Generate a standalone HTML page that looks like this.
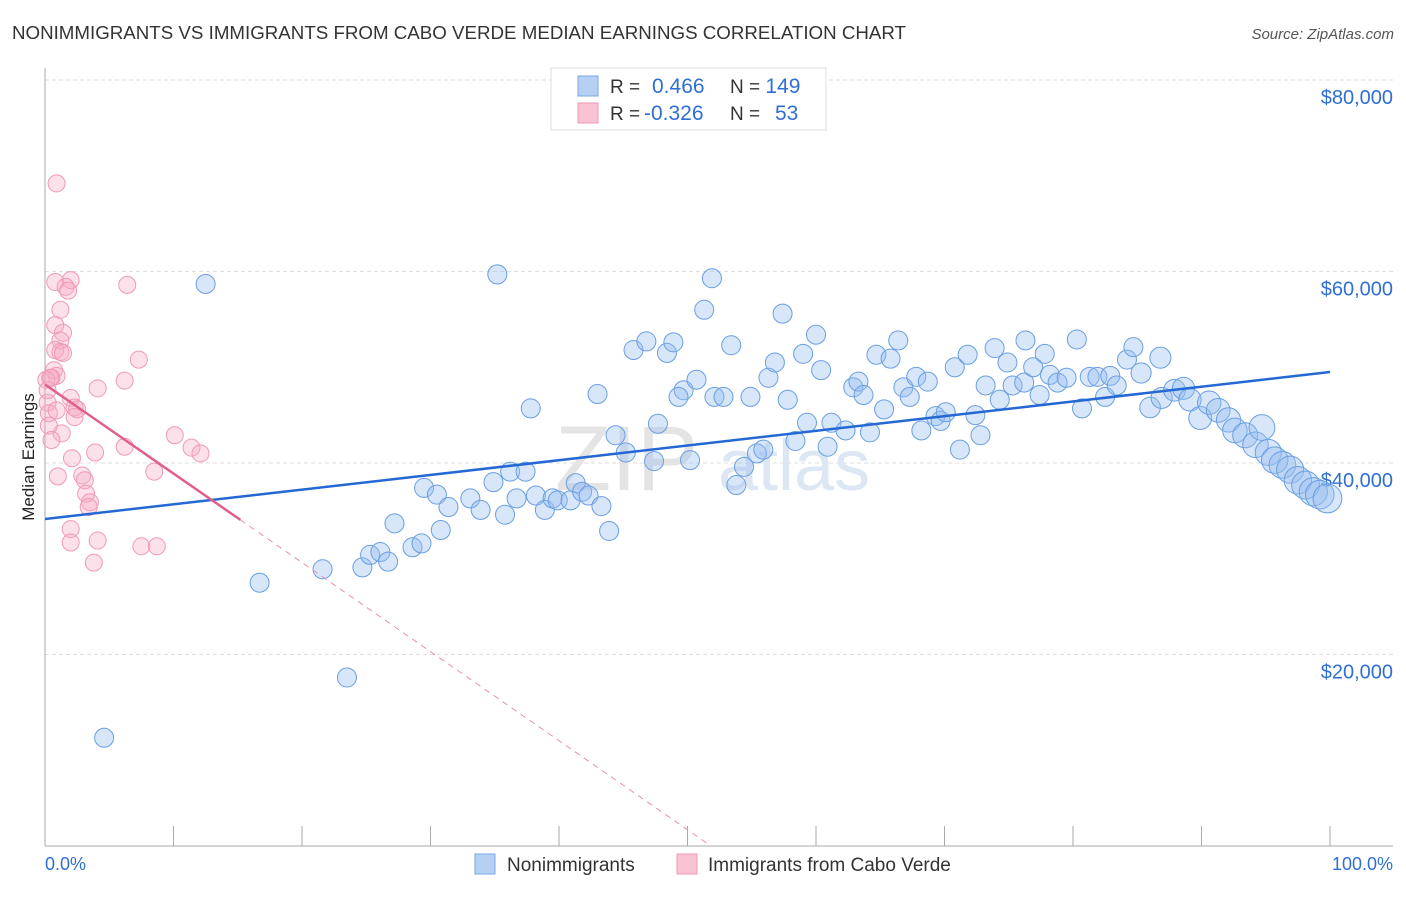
<!DOCTYPE html>
<html><head><meta charset="utf-8"><style>
body{margin:0;background:#fff;font-family:"Liberation Sans",sans-serif;}
svg text{font-family:"Liberation Sans",sans-serif;}
</style></head><body>
<svg id="chart" width="1406" height="892" viewBox="0 0 1406 892">
<text x="12" y="39" font-size="18" fill="#333" textLength="894" lengthAdjust="spacingAndGlyphs">NONIMMIGRANTS VS IMMIGRANTS FROM CABO VERDE MEDIAN EARNINGS CORRELATION CHART</text>
<text x="1394" y="39" font-size="15" fill="#555" font-style="italic" text-anchor="end">Source: ZipAtlas.com</text>
<g id="grid"></g>
<g><text x="555" y="490" font-size="92" fill="#e4e4e4" font-family="Liberation Serif">ZIP</text><text x="718" y="490" font-size="72" fill="#dde6f3">atlas</text></g>
<line x1="45" y1="68" x2="45" y2="846" stroke="#aaa"/>
<line x1="45" y1="846" x2="1393" y2="846" stroke="#aaa"/>
<text transform="translate(34,457) rotate(-90)" font-size="17" fill="#222" text-anchor="middle">Median Earnings</text>
<g id="pts"></g>
<g id="trends"></g>
<g>
<rect x="551" y="68" width="275" height="62" fill="#fff" stroke="#ddd"/>
<rect x="578" y="76" width="20" height="20" fill="#b5d0f3" stroke="#7aa7e6"/>
<rect x="578" y="103" width="20" height="20" fill="#f9c3d3" stroke="#f09ab5"/>
<text x="610" y="93" font-size="19" fill="#333">R = <tspan fill="#2f6fd4" x="652" font-size="21">0.466</tspan><tspan x="730">N = </tspan><tspan fill="#2f6fd4" font-size="21">149</tspan></text>
<text x="610" y="120" font-size="19" fill="#333">R = <tspan fill="#2f6fd4" x="644" font-size="21">-0.326</tspan><tspan x="730">N = </tspan><tspan fill="#2f6fd4" x="775" font-size="21">53</tspan></text>
</g>
<g>
<rect x="475" y="854" width="20" height="20" fill="#b5d0f3" stroke="#7aa7e6"/>
<text x="507" y="871" font-size="19" fill="#333">Nonimmigrants</text>
<rect x="677" y="854" width="20" height="20" fill="#f9c3d3" stroke="#f09ab5"/>
<text x="708" y="871" font-size="19" fill="#333">Immigrants from Cabo Verde</text>
</g>
<text x="45" y="870" font-size="18" fill="#2f6fd4">0.0%</text>
<text x="1393" y="870" font-size="18" fill="#2f6fd4" text-anchor="end">100.0%</text>
</svg>
<script>
const yTicks=[20000,40000,60000,80000];
const yTickLabels=["$20,000","$40,000","$60,000","$80,000"];
const xTicks=[0,10,20,30,40,50,60,70,80,90,100];
const blueX=[12.5,4.6,16.7,21.6,23.5,35.2,37.8,51.9,51.3,57.4,43,44.4,45.2,45.8,46.8,48.4,48.9,47.7,47.4,49.7,49.3,50.2,50.7,52.1,52.8,53.4,54.9,54.4,53.8,55.4,55.9,56.3,56.8,57.8,58.4,59,60,60.4,59.3,60.9,61.2,62.3,62.9,63.3,63.7,64.2,64.7,65.3,65.8,66.4,66.8,67.3,67.8,68.7,69.3,68.2,69.7,70.1,70.8,71.2,71.8,72.4,72.8,73.2,73.9,74.3,74.9,75.3,76.3,76.2,76.9,77.8,77.4,78.2,78.8,79.5,80.3,80.7,81.3,81.9,82.5,82.9,83.4,84.2,84.7,85.3,86,86.8,86.9,87.9,88.6,89.1,89.9,90.6,91.3,92.1,92.6,93.4,94.2,94.7,95.2,95.7,96.3,96.9,97.5,98.1,98.7,99.2,99.8,24.7,25.3,26.1,26.7,27.2,28.6,29.3,29.5,30.5,30.8,31.4,33.1,33.9,34.9,35.8,36.2,36.7,37.4,38.2,38.9,39.5,39.9,40.9,41.3,41.8,42.3,43.3,43.9];
const blueY=[58.7,11.3,27.5,28.9,17.6,59.7,45.7,59.3,56.0,55.6,47.2,42.9,41.1,51.8,52.7,51.5,52.6,44.1,40.2,47.6,46.9,40.3,48.7,46.9,46.9,52.3,46.9,39.6,37.7,41.0,41.4,48.9,50.5,46.6,42.3,51.4,53.4,49.7,44.2,41.7,44.2,43.4,47.9,48.5,47.1,43.2,51.3,45.6,50.9,52.8,47.9,46.9,49.0,48.5,44.9,43.4,44.4,45.3,50.0,41.4,51.3,45.0,42.9,48.1,52.0,46.6,50.5,48.1,52.8,48.4,50.0,51.4,47.1,49.2,48.4,48.9,52.9,45.7,49.0,49.0,46.9,49.1,48.1,50.8,52.1,49.4,45.8,51.0,46.8,47.6,47.8,46.6,44.7,46.3,45.5,44.5,43.4,42.9,41.9,43.7,41.1,40.3,39.8,39.3,38.2,37.7,37.0,36.7,36.3,29.1,30.4,30.7,29.7,33.7,31.2,31.6,37.4,36.7,33.0,35.4,36.3,35.1,38.0,34.6,39.1,36.3,39.1,36.6,35.1,36.3,36.1,36.1,37.9,37.0,36.6,35.5,32.9];
const pinkX=[0.9,0.8,2.0,1.6,1.8,6.4,1.2,0.8,1.4,1.2,0.8,1.2,1.4,0.7,0.9,0.4,0.1,7.3,6.2,4.1,2.0,0.2,0.3,0.9,2.3,2.5,2.3,1.3,0.3,0.5,10.1,11.4,12.1,6.2,3.9,2.1,8.5,1.0,2.9,3.1,3.2,3.5,3.4,2.0,2.0,4.1,7.5,8.7,3.8,0.2,0.5];
const pinkY=[69.2,58.9,59.1,58.4,58.0,58.6,56.0,54.4,53.6,52.8,51.8,51.6,51.5,49.7,49.1,48.9,48.7,50.8,48.6,47.8,46.8,46.3,45.2,45.5,45.8,45.6,44.8,43.1,43.9,42.4,42.9,41.6,41.0,41.7,41.1,40.5,39.1,38.6,38.7,38.2,36.8,35.9,35.4,33.1,31.7,31.9,31.3,31.3,29.6,47.6,48.9];
const blueTrend=[34150,49500];
const pinkTrend=[48200,-930];
const pinkSolidEnd=15.2;
const X=p=>45+p*12.85, Y=v=>846-v*0.009575;
const NS="http://www.w3.org/2000/svg";
function mk(tag,attrs,parent){const e=document.createElementNS(NS,tag);for(const k in attrs)e.setAttribute(k,attrs[k]);parent.appendChild(e);return e;}
const grid=document.getElementById('grid');
yTicks.forEach((t,i)=>{
 const l=mk('line',{x1:45,x2:1393,y1:Y(t),y2:Y(t),stroke:'#ddd','stroke-dasharray':'4,3'},grid);
 
 
 const tx=mk('text',{x:1393,y:Y(t)+24,'font-size':20,fill:'#2f6fd4','text-anchor':'end'},grid);
 tx.textContent=yTickLabels[i];
 
 
});
xTicks.forEach(t=>{
 const l=mk('line',{x1:X(t),x2:X(t),y1:826,y2:846,stroke:'#aaa'},grid);
 
 
});
const pts=document.getElementById('pts');
pinkX.forEach((x,i)=>{
 const c=mk('circle',{cx:X(x),cy:Y(pinkY[i]*1000),r:8.5,fill:'rgba(246,170,195,0.35)',stroke:'#f09ab5','stroke-width':1},pts);
 
 
});
blueX.forEach((x,i)=>{
 const r=x>85?10+(x-85)*0.3:9.5;
 const c=mk('circle',{cx:X(x),cy:Y(blueY[i]*1000),r:r,fill:'rgba(150,190,240,0.38)',stroke:'#6a9fe3','stroke-width':1},pts);
 
 
});
const tr=document.getElementById('trends');
const b=mk('line',{x1:X(0),y1:Y(blueTrend[0]),x2:X(100),y2:Y(blueTrend[1]),stroke:'#2468d4','stroke-width':2.5},tr);


const pe=pinkTrend[0]+pinkTrend[1]*pinkSolidEnd;
const p=mk('line',{x1:X(0),y1:Y(pinkTrend[0]),x2:X(pinkSolidEnd),y2:Y(pe),stroke:'#e0608a','stroke-width':2.5},tr);


const zx=-pinkTrend[0]/pinkTrend[1];
const pd=mk('line',{x1:X(pinkSolidEnd),y1:Y(pe),x2:X(zx),y2:Y(0),stroke:'#e890ad','stroke-width':1,'stroke-dasharray':'6,5'},tr);


</script>
</body></html>
